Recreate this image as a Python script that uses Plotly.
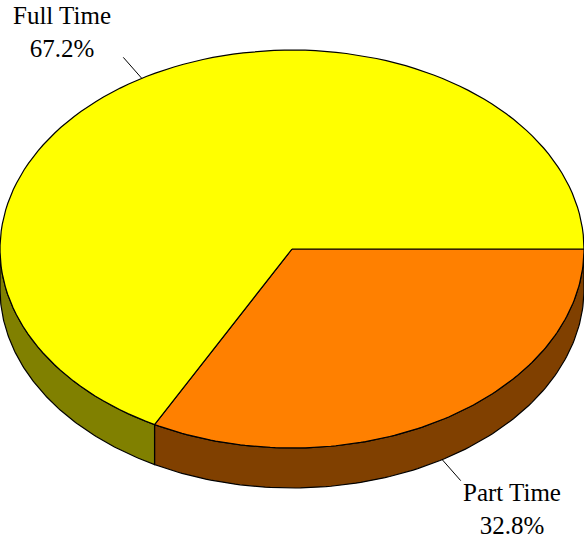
import numpy as np
import plotly.graph_objs as go

# data
labels = ['Part Time', 'Full Time']
shares = [32.8, 67.2]
top_colors = ['#FF8000', '#FFFF00']
side_colors = ['#804000', '#808000']

# pie geometry (pixel space of the 584x537 page)
cx, cy = 292, 249
rx, ry = 292, 199
depth = 40


def arc(t0, t1, dy=0, n=120):
    t = np.radians(np.linspace(t0, t1, n))
    return cx + rx * np.cos(t), cy + ry * np.sin(t) + dy


traces = []
bounds = np.cumsum([0] + shares) / 100 * 360

# side walls (only the front half, 0..180 deg, is visible)
for i in range(len(shares)):
    a0, a1 = bounds[i], min(bounds[i + 1], 180)
    if a0 >= 180:
        continue
    xt, yt = arc(a0, a1)
    xb, yb = arc(a1, a0, dy=depth)
    traces.append(go.Scatter(
        x=np.r_[xt, xb, xt[0]], y=np.r_[yt, yb, yt[0]],
        fill='toself', fillcolor=side_colors[i], mode='lines',
        line=dict(color='black', width=1.2), hoverinfo='skip'))

# top faces
for i in range(len(shares)):
    xa, ya = arc(bounds[i], bounds[i + 1])
    traces.append(go.Scatter(
        x=np.r_[cx, xa, cx], y=np.r_[cy, ya, cy],
        fill='toself', fillcolor=top_colors[i], mode='lines',
        line=dict(color='black', width=1.2), hoverinfo='skip'))

# leader lines and labels
annotations = []
for i in range(len(shares)):
    mid = np.radians((bounds[i] + bounds[i + 1]) / 2)
    c, s = np.cos(mid), np.sin(mid)
    dy = depth if s > 0 else 0
    x0, y0 = cx + rx * c, cy + ry * s + dy
    # radial direction from the centre
    vx, vy = rx * c, ry * s
    n = np.hypot(vx, vy)
    x1, y1 = x0 + 28 * vx / n, y0 + 28 * vy / n
    traces.append(go.Scatter(x=[x0, x1], y=[y0, y1], mode='lines',
                             line=dict(color='black', width=1), hoverinfo='skip'))
    if c < 0:
        ax, xanc, ay = x1 - 10, 'right', y1 - 25
    else:
        ax, xanc, ay = x1, 'left', y1 + 28
    annotations.append(dict(
        x=ax, y=ay, xref='x', yref='y', showarrow=False,
        text=f'{labels[i]}<br>{shares[i]:.1f}%', align='center',
        font=dict(family='Liberation Serif', size=25, color='black'),
        xanchor=xanc, yanchor='middle'))

layout = go.Layout(
    width=584, height=537,
    margin=dict(l=0, r=0, t=0, b=0),
    paper_bgcolor='white', plot_bgcolor='white',
    showlegend=False,
    xaxis=dict(range=[0, 584], visible=False, fixedrange=True),
    yaxis=dict(range=[537, 0], visible=False, fixedrange=True),
    annotations=annotations,
)
fig = go.Figure(data=traces, layout=layout)
fig.write_html("out.html", config={'displayModeBar': False},
               post_script="document.body.style.margin='0';document.body.style.overflow='hidden';")
